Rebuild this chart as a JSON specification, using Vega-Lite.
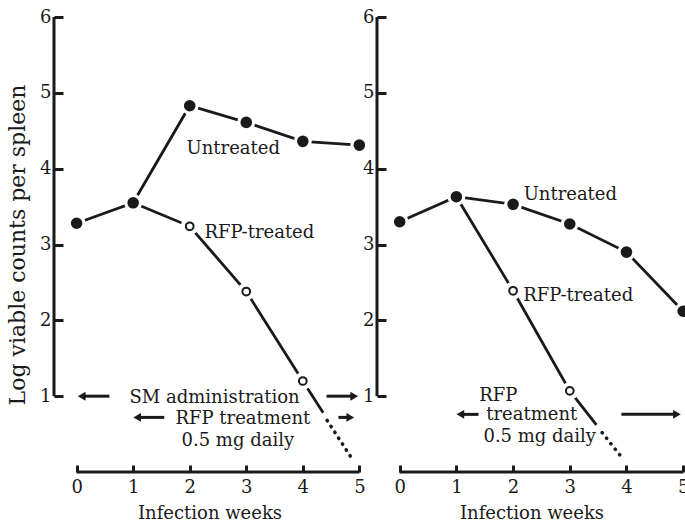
{
  "$schema": "https://vega.github.io/schema/vega-lite/v6.json",
  "background": "white",
  "padding": {"left": 6, "top": 8, "right": 0, "bottom": 0},
  "spacing": 12,
  "bounds": "flush",
  "config": {
    "view": {"stroke": null},
    "font": "DejaVu Serif",
    "axis": {
      "domain": false,
      "grid": false,
      "tickColor": "#1a1a1a",
      "tickWidth": 3,
      "labelColor": "#1a1a1a",
      "labelFont": "DejaVu Serif",
      "labelFontSize": 18,
      "titleColor": "#1a1a1a",
      "titleFont": "DejaVu Serif",
      "titleFontWeight": "normal"
    }
  },
  "datasets": {
    "lines": [
      {"panel": "A", "series": "Untreated", "x": 0, "y": 3.28},
      {"panel": "A", "series": "Untreated", "x": 1, "y": 3.55},
      {"panel": "A", "series": "Untreated", "x": 2, "y": 4.83},
      {"panel": "A", "series": "Untreated", "x": 3, "y": 4.61},
      {"panel": "A", "series": "Untreated", "x": 4, "y": 4.36},
      {"panel": "A", "series": "Untreated", "x": 5, "y": 4.31},
      {"panel": "A", "series": "RFP-treated", "x": 1, "y": 3.55},
      {"panel": "A", "series": "RFP-treated", "x": 2, "y": 3.24},
      {"panel": "A", "series": "RFP-treated", "x": 3, "y": 2.38},
      {"panel": "A", "series": "RFP-treated", "x": 4, "y": 1.2},
      {"panel": "A", "series": "RFP-treated", "x": 4.36, "y": 0.78},
      {"panel": "B", "series": "Untreated", "x": 0, "y": 3.3},
      {"panel": "B", "series": "Untreated", "x": 1, "y": 3.63},
      {"panel": "B", "series": "Untreated", "x": 2, "y": 3.53},
      {"panel": "B", "series": "Untreated", "x": 3, "y": 3.27},
      {"panel": "B", "series": "Untreated", "x": 4, "y": 2.9},
      {"panel": "B", "series": "Untreated", "x": 5, "y": 2.12},
      {"panel": "B", "series": "RFP-treated", "x": 1, "y": 3.63},
      {"panel": "B", "series": "RFP-treated", "x": 2, "y": 2.39},
      {"panel": "B", "series": "RFP-treated", "x": 3, "y": 1.07},
      {"panel": "B", "series": "RFP-treated", "x": 3.47, "y": 0.62}
    ],
    "dotted": [
      {"panel": "A", "x": 4.43, "y": 0.68},
      {"panel": "A", "x": 4.84, "y": 0.21},
      {"panel": "B", "x": 3.57, "y": 0.52},
      {"panel": "B", "x": 3.93, "y": 0.18}
    ],
    "markers": [
      {"panel": "A", "series": "Untreated", "x": 0, "y": 3.28},
      {"panel": "A", "series": "Untreated", "x": 1, "y": 3.55},
      {"panel": "A", "series": "Untreated", "x": 2, "y": 4.83},
      {"panel": "A", "series": "Untreated", "x": 3, "y": 4.61},
      {"panel": "A", "series": "Untreated", "x": 4, "y": 4.36},
      {"panel": "A", "series": "Untreated", "x": 5, "y": 4.31},
      {"panel": "A", "series": "RFP-treated", "x": 2, "y": 3.24},
      {"panel": "A", "series": "RFP-treated", "x": 3, "y": 2.38},
      {"panel": "A", "series": "RFP-treated", "x": 4, "y": 1.2},
      {"panel": "B", "series": "Untreated", "x": 0, "y": 3.3},
      {"panel": "B", "series": "Untreated", "x": 1, "y": 3.63},
      {"panel": "B", "series": "Untreated", "x": 2, "y": 3.53},
      {"panel": "B", "series": "Untreated", "x": 3, "y": 3.27},
      {"panel": "B", "series": "Untreated", "x": 4, "y": 2.9},
      {"panel": "B", "series": "Untreated", "x": 5, "y": 2.12},
      {"panel": "B", "series": "RFP-treated", "x": 2, "y": 2.39},
      {"panel": "B", "series": "RFP-treated", "x": 3, "y": 1.07}
    ],
    "frame": [
      {"panel": "A", "x": -0.4, "x2": -0.4, "y": 1, "y2": 6},
      {"panel": "A", "x": 0, "x2": 5, "y": 0, "y2": 0},
      {"panel": "B", "x": -0.4, "x2": -0.4, "y": 1, "y2": 6},
      {"panel": "B", "x": 0, "x2": 5, "y": 0, "y2": 0}
    ],
    "arrows": [
      {"panel": "A", "x": 0.58, "x2": 0.09, "y": 1.0, "dir": "left"},
      {"panel": "A", "x": 4.42, "x2": 4.91, "y": 1.0, "dir": "right"},
      {"panel": "A", "x": 1.55, "x2": 1.07, "y": 0.72, "dir": "left"},
      {"panel": "A", "x": 4.63, "x2": 4.84, "y": 0.72, "dir": "right"},
      {"panel": "B", "x": 1.39, "x2": 1.07, "y": 0.76, "dir": "left"},
      {"panel": "B", "x": 3.91, "x2": 4.89, "y": 0.76, "dir": "right"}
    ],
    "notes": [
      {"panel": "A", "x": 2.77, "y": 4.19, "text": "Untreated"},
      {"panel": "A", "x": 2.44, "y": 0.91, "text": "SM administration"},
      {"panel": "A", "x": 2.94, "y": 0.63, "text": "RFP treatment"},
      {"panel": "A", "x": 2.85, "y": 0.34, "text": "0.5 mg daily"},
      {"panel": "B", "x": 3.01, "y": 3.59, "text": "Untreated"},
      {"panel": "B", "x": 1.74, "y": 0.93, "text": "RFP"},
      {"panel": "B", "x": 2.33, "y": 0.68, "text": "treatment"},
      {"panel": "B", "x": 2.47, "y": 0.39, "text": "0.5 mg daily"}
    ],
    "leftnotes": [
      {"panel": "A", "x": 2.26, "y": 3.08, "text": "RFP-treated"},
      {"panel": "B", "x": 2.18, "y": 2.25, "text": "RFP-treated"}
    ]
  },
  "hconcat": [
    {
      "width": 311,
      "height": 455,
      "encoding": {
        "x": {"field": "x", "type": "quantitative",
          "scale": {"domain": [-0.4, 5.1], "nice": false, "zero": false},
          "axis": {"values": [0, 1, 2, 3, 4, 5], "tickSize": -7, "labelPadding": 13, "title": "Infection weeks", "titleFontSize": 18, "titlePadding": 8}},
        "y": {"field": "y", "type": "quantitative",
          "scale": {"domain": [0, 6], "nice": false, "zero": false},
          "axis": {"values": [1, 2, 3, 4, 5, 6], "tickSize": -9, "labelPadding": 12, "title": "Log viable counts per spleen", "titleFontSize": 22, "titlePadding": 10}}
      },
      "layer": [
        {"data": {"name": "frame"}, "transform": [{"filter": "datum.panel == 'A'"}],
          "mark": {"type": "rule", "strokeWidth": 3, "color": "#1a1a1a"},
          "encoding": {"x2": {"field": "x2"}, "y2": {"field": "y2"}}},
        {"data": {"name": "lines"}, "transform": [{"filter": "datum.panel == 'A'"}],
          "mark": {"type": "line", "strokeWidth": 2.8, "color": "#1a1a1a"},
          "encoding": {"detail": {"field": "series"}}},
        {"data": {"name": "dotted"}, "transform": [{"filter": "datum.panel == 'A'"}],
          "mark": {"type": "line", "strokeWidth": 3.5, "color": "#1a1a1a", "strokeDash": [0.5, 6.5], "strokeCap": "round"},
          "encoding": {}},
        {"data": {"name": "markers"}, "transform": [{"filter": "datum.panel == 'A'"}],
          "mark": {"type": "point", "filled": true, "color": "white", "opacity": 1, "size": 320}},
        {"data": {"name": "markers"}, "transform": [{"filter": "datum.panel == 'A'"}],
          "mark": {"type": "point", "opacity": 1, "stroke": "#1a1a1a", "strokeWidth": 2},
          "encoding": {
            "fill": {"field": "series", "type": "nominal", "scale": {"domain": ["Untreated", "RFP-treated"], "range": ["#1a1a1a", "white"]}, "legend": null},
            "size": {"field": "series", "type": "ordinal", "scale": {"domain": ["Untreated", "RFP-treated"], "range": [92, 60]}, "legend": null}}},
        {"data": {"name": "arrows"}, "transform": [{"filter": "datum.panel == 'A'"}],
          "mark": {"type": "rule", "strokeWidth": 3, "color": "#1a1a1a"},
          "encoding": {"x2": {"field": "x2"}}},
        {"data": {"name": "arrows"}, "transform": [{"filter": "datum.panel == 'A'"}],
          "mark": {"type": "point", "filled": true, "opacity": 1, "color": "#1a1a1a", "size": 80},
          "encoding": {"x": {"field": "x2", "type": "quantitative"},
            "shape": {"field": "dir", "type": "nominal", "scale": {"domain": ["left", "right"], "range": ["triangle-left", "triangle-right"]}, "legend": null}}},
        {"data": {"name": "notes"}, "transform": [{"filter": "datum.panel == 'A'"}],
          "mark": {"type": "text", "fontSize": 18, "font": "DejaVu Serif", "color": "#1a1a1a", "align": "center", "baseline": "alphabetic"},
          "encoding": {"text": {"field": "text"}}},
        {"data": {"name": "leftnotes"}, "transform": [{"filter": "datum.panel == 'A'"}],
          "mark": {"type": "text", "fontSize": 18, "font": "DejaVu Serif", "color": "#1a1a1a", "align": "left", "baseline": "alphabetic"},
          "encoding": {"text": {"field": "text"}}}
      ]
    },
    {
      "width": 309,
      "height": 455,
      "encoding": {
        "x": {"field": "x", "type": "quantitative",
          "scale": {"domain": [-0.4, 5.05], "nice": false, "zero": false},
          "axis": {"values": [0, 1, 2, 3, 4, 5], "tickSize": -7, "labelPadding": 13, "title": "Infection weeks", "titleFontSize": 18, "titlePadding": 8}},
        "y": {"field": "y", "type": "quantitative",
          "scale": {"domain": [0, 6], "nice": false, "zero": false},
          "axis": {"values": [1, 2, 3, 4, 5, 6], "tickSize": -9, "labelPadding": 12, "title": null}}
      },
      "layer": [
        {"data": {"name": "frame"}, "transform": [{"filter": "datum.panel == 'B'"}],
          "mark": {"type": "rule", "strokeWidth": 3, "color": "#1a1a1a"},
          "encoding": {"x2": {"field": "x2"}, "y2": {"field": "y2"}}},
        {"data": {"name": "lines"}, "transform": [{"filter": "datum.panel == 'B'"}],
          "mark": {"type": "line", "strokeWidth": 2.8, "color": "#1a1a1a"},
          "encoding": {"detail": {"field": "series"}}},
        {"data": {"name": "dotted"}, "transform": [{"filter": "datum.panel == 'B'"}],
          "mark": {"type": "line", "strokeWidth": 3.5, "color": "#1a1a1a", "strokeDash": [0.5, 6.5], "strokeCap": "round"},
          "encoding": {}},
        {"data": {"name": "markers"}, "transform": [{"filter": "datum.panel == 'B'"}],
          "mark": {"type": "point", "filled": true, "color": "white", "opacity": 1, "size": 320, "clip": true}},
        {"data": {"name": "markers"}, "transform": [{"filter": "datum.panel == 'B'"}],
          "mark": {"type": "point", "opacity": 1, "stroke": "#1a1a1a", "strokeWidth": 2, "clip": true},
          "encoding": {
            "fill": {"field": "series", "type": "nominal", "scale": {"domain": ["Untreated", "RFP-treated"], "range": ["#1a1a1a", "white"]}, "legend": null},
            "size": {"field": "series", "type": "ordinal", "scale": {"domain": ["Untreated", "RFP-treated"], "range": [92, 60]}, "legend": null}}},
        {"data": {"name": "arrows"}, "transform": [{"filter": "datum.panel == 'B'"}],
          "mark": {"type": "rule", "strokeWidth": 3, "color": "#1a1a1a"},
          "encoding": {"x2": {"field": "x2"}}},
        {"data": {"name": "arrows"}, "transform": [{"filter": "datum.panel == 'B'"}],
          "mark": {"type": "point", "filled": true, "opacity": 1, "color": "#1a1a1a", "size": 80},
          "encoding": {"x": {"field": "x2", "type": "quantitative"},
            "shape": {"field": "dir", "type": "nominal", "scale": {"domain": ["left", "right"], "range": ["triangle-left", "triangle-right"]}, "legend": null}}},
        {"data": {"name": "notes"}, "transform": [{"filter": "datum.panel == 'B'"}],
          "mark": {"type": "text", "fontSize": 18, "font": "DejaVu Serif", "color": "#1a1a1a", "align": "center", "baseline": "alphabetic"},
          "encoding": {"text": {"field": "text"}}},
        {"data": {"name": "leftnotes"}, "transform": [{"filter": "datum.panel == 'B'"}],
          "mark": {"type": "text", "fontSize": 18, "font": "DejaVu Serif", "color": "#1a1a1a", "align": "left", "baseline": "alphabetic"},
          "encoding": {"text": {"field": "text"}}}
      ]
    }
  ]
}
